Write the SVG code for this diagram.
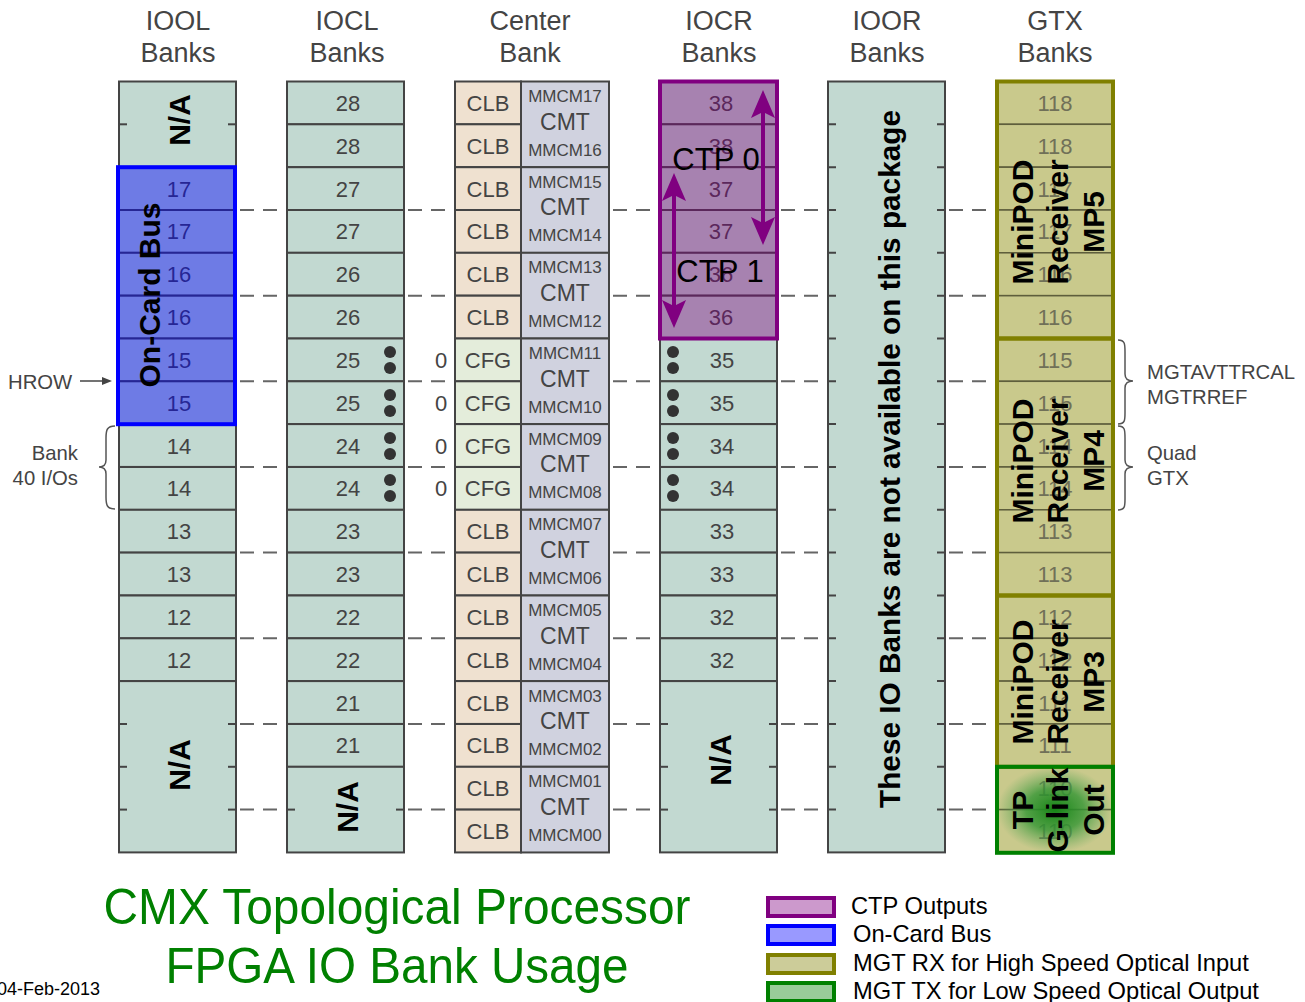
<svg xmlns="http://www.w3.org/2000/svg" width="1305" height="1002" viewBox="0 0 1305 1002">
<style>
text{font-family:"Liberation Sans",Arial,sans-serif}
.cell{fill:#c2d9d1;stroke:#444;stroke-width:2}
.clb{fill:#efe1d0;stroke:#444;stroke-width:2}
.cfg{fill:#e4eddb;stroke:#444;stroke-width:2}
.cmt{fill:#d0d2df;stroke:#444;stroke-width:2}
.gx{fill:#c9c98c;stroke:#5e5e3c;stroke-width:1.5}
.tick{stroke:#444;stroke-width:2}
.num{font-size:22px;fill:#444;text-anchor:middle}
.gnum{font-size:22px;fill:#707058;text-anchor:middle}
.na{font-size:30px;font-weight:bold;fill:#000;text-anchor:middle}
.hdr{font-size:27px;fill:#444;text-anchor:middle}
.mm{font-size:17px;fill:#444;text-anchor:middle}
.cm{font-size:23px;fill:#444;text-anchor:middle}
.dot{fill:#333}
.dash{stroke:#666;stroke-width:2;stroke-dasharray:14 9;fill:none}
.lbl{font-size:20.3px;fill:#444}
.leg{font-size:23.7px;fill:#000}
.title{font-size:50px;fill:#008000;text-anchor:middle}
.big{font-size:30px;font-weight:bold;fill:#000;text-anchor:middle}
.ctp{font-size:31px;fill:#000;text-anchor:middle}
.brace{fill:none;stroke:#555;stroke-width:1.5}
</style>
<defs>
<marker id="pa" viewBox="0 0 28 24" refX="8" refY="12" markerWidth="28" markerHeight="24" markerUnits="userSpaceOnUse" orient="auto-start-reverse">
<path d="M0,0 L28,12 L0,24 L6,12 Z" fill="#800080"/>
</marker>
<radialGradient id="glow" cx="0.5" cy="0.5" r="0.5">
<stop offset="0" stop-color="#168416" stop-opacity="1"/>
<stop offset="0.5" stop-color="#349634" stop-opacity="0.8"/>
<stop offset="1" stop-color="#5aa85a" stop-opacity="0"/>
</radialGradient>
</defs>
<rect width="1305" height="1002" fill="#fff"/>

<g id="headers">
<text class="hdr" x="178" y="30">IOOL</text><text class="hdr" x="178" y="62">Banks</text>
<text class="hdr" x="347" y="30">IOCL</text><text class="hdr" x="347" y="62">Banks</text>
<text class="hdr" x="530" y="30">Center</text><text class="hdr" x="530" y="62">Bank</text>
<text class="hdr" x="719" y="30">IOCR</text><text class="hdr" x="719" y="62">Banks</text>
<text class="hdr" x="887" y="30">IOOR</text><text class="hdr" x="887" y="62">Banks</text>
<text class="hdr" x="1055" y="30">GTX</text><text class="hdr" x="1055" y="62">Banks</text>
</g>

<g id="iool">
<rect class="cell" x="119" y="81.5" width="117" height="85.66"/>
<line class="tick" x1="119" y1="124.3" x2="127" y2="124.3"/><line class="tick" x1="228" y1="124.3" x2="236" y2="124.3"/>
<text class="na" transform="translate(190,120) rotate(-90)">N/A</text>
<rect class="cell" x="119" y="167.2" width="117" height="42.83"/><text class="num" x="179" y="197">17</text>
<rect class="cell" x="119" y="210" width="117" height="42.83"/><text class="num" x="179" y="239">17</text>
<rect class="cell" x="119" y="252.8" width="117" height="42.83"/><text class="num" x="179" y="282">16</text>
<rect class="cell" x="119" y="295.7" width="117" height="42.83"/><text class="num" x="179" y="325">16</text>
<rect class="cell" x="119" y="338.5" width="117" height="42.83"/><text class="num" x="179" y="368">15</text>
<rect class="cell" x="119" y="381.3" width="117" height="42.83"/><text class="num" x="179" y="411">15</text>
<rect class="cell" x="119" y="424.1" width="117" height="42.83"/><text class="num" x="179" y="454">14</text>
<rect class="cell" x="119" y="467" width="117" height="42.83"/><text class="num" x="179" y="496">14</text>
<rect class="cell" x="119" y="509.8" width="117" height="42.83"/><text class="num" x="179" y="539">13</text>
<rect class="cell" x="119" y="552.6" width="117" height="42.83"/><text class="num" x="179" y="582">13</text>
<rect class="cell" x="119" y="595.5" width="117" height="42.83"/><text class="num" x="179" y="625">12</text>
<rect class="cell" x="119" y="638.3" width="117" height="42.83"/><text class="num" x="179" y="668">12</text>
<rect class="cell" x="119" y="681.1" width="117" height="171.3"/>
<line class="tick" x1="119" y1="724" x2="127" y2="724"/><line class="tick" x1="228" y1="724" x2="236" y2="724"/>
<line class="tick" x1="119" y1="766.8" x2="127" y2="766.8"/><line class="tick" x1="228" y1="766.8" x2="236" y2="766.8"/>
<line class="tick" x1="119" y1="809.6" x2="127" y2="809.6"/><line class="tick" x1="228" y1="809.6" x2="236" y2="809.6"/>
<text class="na" transform="translate(190,765) rotate(-90)">N/A</text>
</g>

<g id="oncard-bus">
<rect x="118" y="167.2" width="117" height="257" fill="#0000ff" fill-opacity="0.43" stroke="#0000ff" stroke-width="4"/>
<text class="big" transform="translate(160,295) rotate(-90)">On-Card Bus</text>
</g>

<g id="iocl">
<rect class="cell" x="287" y="81.5" width="117" height="42.83"/><text class="num" x="348" y="111">28</text>
<rect class="cell" x="287" y="124.3" width="117" height="42.83"/><text class="num" x="348" y="154">28</text>
<rect class="cell" x="287" y="167.2" width="117" height="42.83"/><text class="num" x="348" y="197">27</text>
<rect class="cell" x="287" y="210" width="117" height="42.83"/><text class="num" x="348" y="239">27</text>
<rect class="cell" x="287" y="252.8" width="117" height="42.83"/><text class="num" x="348" y="282">26</text>
<rect class="cell" x="287" y="295.7" width="117" height="42.83"/><text class="num" x="348" y="325">26</text>
<rect class="cell" x="287" y="338.5" width="117" height="42.83"/><text class="num" x="348" y="368">25</text>
<rect class="cell" x="287" y="381.3" width="117" height="42.83"/><text class="num" x="348" y="411">25</text>
<rect class="cell" x="287" y="424.1" width="117" height="42.83"/><text class="num" x="348" y="454">24</text>
<rect class="cell" x="287" y="467" width="117" height="42.83"/><text class="num" x="348" y="496">24</text>
<rect class="cell" x="287" y="509.8" width="117" height="42.83"/><text class="num" x="348" y="539">23</text>
<rect class="cell" x="287" y="552.6" width="117" height="42.83"/><text class="num" x="348" y="582">23</text>
<rect class="cell" x="287" y="595.5" width="117" height="42.83"/><text class="num" x="348" y="625">22</text>
<rect class="cell" x="287" y="638.3" width="117" height="42.83"/><text class="num" x="348" y="668">22</text>
<rect class="cell" x="287" y="681.1" width="117" height="42.83"/><text class="num" x="348" y="711">21</text>
<rect class="cell" x="287" y="724" width="117" height="42.83"/><text class="num" x="348" y="753">21</text>
<rect class="cell" x="287" y="766.8" width="117" height="85.66"/>
<line class="tick" x1="287" y1="809.6" x2="295" y2="809.6"/><line class="tick" x1="396" y1="809.6" x2="404" y2="809.6"/>
<text class="na" transform="translate(358,807) rotate(-90)">N/A</text>
<circle class="dot" cx="390" cy="352" r="6"/><circle class="dot" cx="390" cy="368" r="6"/>
<circle class="dot" cx="390" cy="395" r="6"/><circle class="dot" cx="390" cy="411" r="6"/>
<circle class="dot" cx="390" cy="438" r="6"/><circle class="dot" cx="390" cy="454" r="6"/>
<circle class="dot" cx="390" cy="480" r="6"/><circle class="dot" cx="390" cy="496" r="6"/>
</g>

<g id="center-bank">
<rect class="clb" x="455" y="81.5" width="66" height="42.83"/><text class="num" x="488" y="111">CLB</text>
<rect class="clb" x="455" y="124.3" width="66" height="42.83"/><text class="num" x="488" y="154">CLB</text>
<rect class="clb" x="455" y="167.2" width="66" height="42.83"/><text class="num" x="488" y="197">CLB</text>
<rect class="clb" x="455" y="210" width="66" height="42.83"/><text class="num" x="488" y="239">CLB</text>
<rect class="clb" x="455" y="252.8" width="66" height="42.83"/><text class="num" x="488" y="282">CLB</text>
<rect class="clb" x="455" y="295.7" width="66" height="42.83"/><text class="num" x="488" y="325">CLB</text>
<rect class="cfg" x="455" y="338.5" width="66" height="42.83"/><text class="num" x="488" y="368">CFG</text>
<rect class="cfg" x="455" y="381.3" width="66" height="42.83"/><text class="num" x="488" y="411">CFG</text>
<rect class="cfg" x="455" y="424.1" width="66" height="42.83"/><text class="num" x="488" y="454">CFG</text>
<rect class="cfg" x="455" y="467" width="66" height="42.83"/><text class="num" x="488" y="496">CFG</text>
<rect class="clb" x="455" y="509.8" width="66" height="42.83"/><text class="num" x="488" y="539">CLB</text>
<rect class="clb" x="455" y="552.6" width="66" height="42.83"/><text class="num" x="488" y="582">CLB</text>
<rect class="clb" x="455" y="595.5" width="66" height="42.83"/><text class="num" x="488" y="625">CLB</text>
<rect class="clb" x="455" y="638.3" width="66" height="42.83"/><text class="num" x="488" y="668">CLB</text>
<rect class="clb" x="455" y="681.1" width="66" height="42.83"/><text class="num" x="488" y="711">CLB</text>
<rect class="clb" x="455" y="724" width="66" height="42.83"/><text class="num" x="488" y="753">CLB</text>
<rect class="clb" x="455" y="766.8" width="66" height="42.83"/><text class="num" x="488" y="796">CLB</text>
<rect class="clb" x="455" y="809.6" width="66" height="42.83"/><text class="num" x="488" y="839">CLB</text>
<text class="num" x="441" y="368">0</text><text class="num" x="441" y="411">0</text>
<text class="num" x="441" y="454">0</text><text class="num" x="441" y="496">0</text>
<rect class="cmt" x="521" y="81.5" width="88" height="85.66"/>
<text class="mm" x="565" y="102">MMCM17</text><text class="cm" x="565" y="129.5">CMT</text><text class="mm" x="565" y="155.5">MMCM16</text>
<rect class="cmt" x="521" y="167.2" width="88" height="85.66"/>
<text class="mm" x="565" y="187.7">MMCM15</text><text class="cm" x="565" y="215.2">CMT</text><text class="mm" x="565" y="241.2">MMCM14</text>
<rect class="cmt" x="521" y="252.8" width="88" height="85.66"/>
<text class="mm" x="565" y="273.3">MMCM13</text><text class="cm" x="565" y="300.8">CMT</text><text class="mm" x="565" y="326.8">MMCM12</text>
<rect class="cmt" x="521" y="338.5" width="88" height="85.66"/>
<text class="mm" x="565" y="359">MMCM11</text><text class="cm" x="565" y="386.5">CMT</text><text class="mm" x="565" y="412.5">MMCM10</text>
<rect class="cmt" x="521" y="424.1" width="88" height="85.66"/>
<text class="mm" x="565" y="444.6">MMCM09</text><text class="cm" x="565" y="472.1">CMT</text><text class="mm" x="565" y="498.1">MMCM08</text>
<rect class="cmt" x="521" y="509.8" width="88" height="85.66"/>
<text class="mm" x="565" y="530.3">MMCM07</text><text class="cm" x="565" y="557.8">CMT</text><text class="mm" x="565" y="583.8">MMCM06</text>
<rect class="cmt" x="521" y="595.5" width="88" height="85.66"/>
<text class="mm" x="565" y="616">MMCM05</text><text class="cm" x="565" y="643.5">CMT</text><text class="mm" x="565" y="669.5">MMCM04</text>
<rect class="cmt" x="521" y="681.1" width="88" height="85.66"/>
<text class="mm" x="565" y="701.6">MMCM03</text><text class="cm" x="565" y="729.1">CMT</text><text class="mm" x="565" y="755.1">MMCM02</text>
<rect class="cmt" x="521" y="766.8" width="88" height="85.66"/>
<text class="mm" x="565" y="787.3">MMCM01</text><text class="cm" x="565" y="814.8">CMT</text><text class="mm" x="565" y="840.8">MMCM00</text>
</g>

<g id="iocr">
<rect class="cell" x="660" y="81.5" width="117" height="42.83"/><text class="num" x="721" y="111">38</text>
<rect class="cell" x="660" y="124.3" width="117" height="42.83"/><text class="num" x="721" y="154">38</text>
<rect class="cell" x="660" y="167.2" width="117" height="42.83"/><text class="num" x="721" y="197">37</text>
<rect class="cell" x="660" y="210" width="117" height="42.83"/><text class="num" x="721" y="239">37</text>
<rect class="cell" x="660" y="252.8" width="117" height="42.83"/><text class="num" x="721" y="282">36</text>
<rect class="cell" x="660" y="295.7" width="117" height="42.83"/><text class="num" x="721" y="325">36</text>
<rect class="cell" x="660" y="338.5" width="117" height="42.83"/><text class="num" x="722" y="368">35</text>
<rect class="cell" x="660" y="381.3" width="117" height="42.83"/><text class="num" x="722" y="411">35</text>
<rect class="cell" x="660" y="424.1" width="117" height="42.83"/><text class="num" x="722" y="454">34</text>
<rect class="cell" x="660" y="467" width="117" height="42.83"/><text class="num" x="722" y="496">34</text>
<rect class="cell" x="660" y="509.8" width="117" height="42.83"/><text class="num" x="722" y="539">33</text>
<rect class="cell" x="660" y="552.6" width="117" height="42.83"/><text class="num" x="722" y="582">33</text>
<rect class="cell" x="660" y="595.5" width="117" height="42.83"/><text class="num" x="722" y="625">32</text>
<rect class="cell" x="660" y="638.3" width="117" height="42.83"/><text class="num" x="722" y="668">32</text>
<rect class="cell" x="660" y="681.1" width="117" height="171.3"/>
<line class="tick" x1="660" y1="724" x2="668" y2="724"/><line class="tick" x1="769" y1="724" x2="777" y2="724"/>
<line class="tick" x1="660" y1="766.8" x2="668" y2="766.8"/><line class="tick" x1="769" y1="766.8" x2="777" y2="766.8"/>
<line class="tick" x1="660" y1="809.6" x2="668" y2="809.6"/><line class="tick" x1="769" y1="809.6" x2="777" y2="809.6"/>
<text class="na" transform="translate(731,760) rotate(-90)">N/A</text>
<circle class="dot" cx="673" cy="352" r="6"/><circle class="dot" cx="673" cy="368" r="6"/>
<circle class="dot" cx="673" cy="395" r="6"/><circle class="dot" cx="673" cy="411" r="6"/>
<circle class="dot" cx="673" cy="438" r="6"/><circle class="dot" cx="673" cy="454" r="6"/>
<circle class="dot" cx="673" cy="480" r="6"/><circle class="dot" cx="673" cy="496" r="6"/>
</g>

<g id="ctp-outputs">
<rect x="660" y="81.5" width="117" height="257" fill="#800080" fill-opacity="0.4" stroke="#800080" stroke-width="4"/>
<text class="ctp" x="716" y="170">CTP 0</text>
<text class="ctp" x="720" y="282">CTP 1</text>
</g>

<g id="ioor">
<rect class="cell" x="828" y="81.5" width="117" height="770.9"/>
<path class="tick" d="M828,124.3h8M937,124.3h8M828,167.2h8M937,167.2h8M828,210h8M937,210h8M828,252.8h8M937,252.8h8M828,295.7h8M937,295.7h8M828,338.5h8M937,338.5h8M828,381.3h8M937,381.3h8M828,424.1h8M937,424.1h8M828,467h8M937,467h8M828,509.8h8M937,509.8h8M828,552.6h8M937,552.6h8M828,595.5h8M937,595.5h8M828,638.3h8M937,638.3h8M828,681.1h8M937,681.1h8M828,724h8M937,724h8M828,766.8h8M937,766.8h8M828,809.6h8M937,809.6h8"/>
<text class="big" transform="translate(900,459) rotate(-90)" textLength="698" lengthAdjust="spacingAndGlyphs">These IO Banks are not available on this package</text>
</g>

<g id="gtx">
<rect class="gx" x="996" y="81.5" width="118" height="42.83"/><text class="gnum" x="1055" y="111">118</text>
<rect class="gx" x="996" y="124.3" width="118" height="42.83"/><text class="gnum" x="1055" y="154">118</text>
<rect class="gx" x="996" y="167.2" width="118" height="42.83"/><text class="gnum" x="1055" y="197">117</text>
<rect class="gx" x="996" y="210" width="118" height="42.83"/><text class="gnum" x="1055" y="239">117</text>
<rect class="gx" x="996" y="252.8" width="118" height="42.83"/><text class="gnum" x="1055" y="282">116</text>
<rect class="gx" x="996" y="295.7" width="118" height="42.83"/><text class="gnum" x="1055" y="325">116</text>
<rect class="gx" x="996" y="338.5" width="118" height="42.83"/><text class="gnum" x="1055" y="368">115</text>
<rect class="gx" x="996" y="381.3" width="118" height="42.83"/><text class="gnum" x="1055" y="411">115</text>
<rect class="gx" x="996" y="424.1" width="118" height="42.83"/><text class="gnum" x="1055" y="454">114</text>
<rect class="gx" x="996" y="467" width="118" height="42.83"/><text class="gnum" x="1055" y="496">114</text>
<rect class="gx" x="996" y="509.8" width="118" height="42.83"/><text class="gnum" x="1055" y="539">113</text>
<rect class="gx" x="996" y="552.6" width="118" height="42.83"/><text class="gnum" x="1055" y="582">113</text>
<rect class="gx" x="996" y="595.5" width="118" height="42.83"/><text class="gnum" x="1055" y="625">112</text>
<rect class="gx" x="996" y="638.3" width="118" height="42.83"/><text class="gnum" x="1055" y="668">112</text>
<rect class="gx" x="996" y="681.1" width="118" height="42.83"/><text class="gnum" x="1055" y="711">111</text>
<rect class="gx" x="996" y="724" width="118" height="42.83"/><text class="gnum" x="1055" y="753">111</text>
<rect class="gx" x="996" y="766.8" width="118" height="42.83"/><text class="gnum" x="1055" y="796">110</text>
<rect class="gx" x="996" y="809.6" width="118" height="42.83"/><text class="gnum" x="1055" y="839">110</text>
</g>

<g id="mp5">
<rect x="997" y="81.5" width="116" height="257" fill="none" stroke="#808000" stroke-width="4"/>
<text class="big" transform="translate(1033,222) rotate(-90)">MiniPOD</text>
<text class="big" transform="translate(1068,222) rotate(-90)">Receiver</text>
<text class="big" transform="translate(1104,222) rotate(-90)">MP5</text>
</g>
<g id="mp4">
<rect x="997" y="338.5" width="116" height="257" fill="none" stroke="#808000" stroke-width="4"/>
<text class="big" transform="translate(1033,461) rotate(-90)">MiniPOD</text>
<text class="big" transform="translate(1068,461) rotate(-90)">Receiver</text>
<text class="big" transform="translate(1104,461) rotate(-90)">MP4</text>
</g>
<g id="mp3">
<rect x="997" y="595.5" width="116" height="171.3" fill="none" stroke="#808000" stroke-width="4"/>
<text class="big" transform="translate(1033,682) rotate(-90)">MiniPOD</text>
<text class="big" transform="translate(1068,682) rotate(-90)">Receiver</text>
<text class="big" transform="translate(1104,682) rotate(-90)">MP3</text>
</g>
<g id="tp-glink">
<rect x="997" y="766.8" width="116" height="86" fill="url(#glow)" stroke="#008000" stroke-width="4"/>
<text class="big" transform="translate(1033,810) rotate(-90)">TP</text>
<text class="big" transform="translate(1068,810) rotate(-90)">G-link</text>
<text class="big" transform="translate(1104,810) rotate(-90)">Out</text>
</g>

<g id="annotations">
<text class="lbl" x="8" y="389">HROW</text>
<text class="lbl" x="78" y="460" text-anchor="end">Bank</text>
<text class="lbl" x="78" y="485" text-anchor="end">40 I/Os</text>
<path class="brace" d="M115,426 C107,426 106,430 106,438 L106,460 C106,464 104,467 99,467 C104,467 106,470 106,474 L106,497 C106,505 107,509 115,509"/>
<path class="brace" d="M1118,340 C1125,340 1125,344 1125,352 L1125,374 C1125,378 1127,381 1133,381 C1127,381 1125,384 1125,388 L1125,413 C1125,420 1125,424 1118,424"/>
<path class="brace" d="M1118,426 C1125,426 1125,430 1125,438 L1125,460 C1125,464 1127,467 1133,467 C1127,467 1125,470 1125,474 L1125,499 C1125,506 1125,510 1118,510"/>
<text class="lbl" x="1147" y="379">MGTAVTTRCAL</text>
<text class="lbl" x="1147" y="404">MGTRREF</text>
<text class="lbl" x="1147" y="460">Quad</text>
<text class="lbl" x="1147" y="485">GTX</text>
</g>

<g id="title">
<text class="title" x="397" y="924" textLength="587" lengthAdjust="spacingAndGlyphs">CMX Topological Processor</text>
<text class="title" x="397" y="983" textLength="463" lengthAdjust="spacingAndGlyphs">FPGA IO Bank Usage</text>
<text x="-3" y="995" font-size="18" fill="#000">04-Feb-2013</text>
</g>

<g id="legend">
<rect x="768" y="898" width="66" height="18" fill="#cc99cc" stroke="#800080" stroke-width="4"/>
<text class="leg" x="851" y="914">CTP Outputs</text>
<rect x="768" y="926" width="66" height="18" fill="#9999ff" stroke="#0000ff" stroke-width="4"/>
<text class="leg" x="853" y="942">On-Card Bus</text>
<rect x="768" y="955" width="66" height="18" fill="#cccc99" stroke="#808000" stroke-width="4"/>
<text class="leg" x="853" y="971">MGT RX for High Speed Optical Input</text>
<rect x="768" y="983" width="66" height="18" fill="#99cc99" stroke="#008000" stroke-width="4"/>
<text class="leg" x="853" y="999">MGT TX for Low Speed Optical Output</text>
</g>

<g id="connectors">
<path class="dash" d="M240,210h43M408,210h43M613,210h43M781,210h43M949,210h43
M240,295.7h43M408,295.7h43M613,295.7h43M781,295.7h43M949,295.7h43
M240,381.3h43M408,381.3h43M613,381.3h43M781,381.3h43M949,381.3h43
M240,467h43M408,467h43M613,467h43M781,467h43M949,467h43
M240,552.6h43M408,552.6h43M613,552.6h43M781,552.6h43M949,552.6h43
M240,638.3h43M408,638.3h43M613,638.3h43M781,638.3h43M949,638.3h43
M240,724h43M408,724h43M613,724h43M781,724h43M949,724h43
M240,809.6h43M408,809.6h43M613,809.6h43M781,809.6h43M949,809.6h43"/>
<line x1="80" y1="381" x2="104" y2="381" stroke="#444" stroke-width="1.5"/>
<polygon points="112,381 102,377 102,385" fill="#444"/>
<line x1="763" y1="110" x2="763" y2="225" stroke="#800080" stroke-width="4" marker-start="url(#pa)" marker-end="url(#pa)"/>
<line x1="674" y1="193" x2="674" y2="308" stroke="#800080" stroke-width="4" marker-start="url(#pa)" marker-end="url(#pa)"/>
</g>
</svg>
